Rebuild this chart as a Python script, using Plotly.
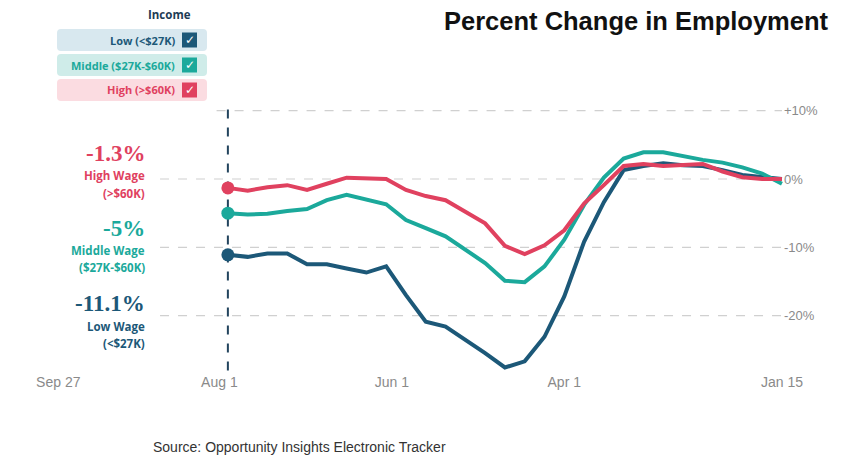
import datetime as dt
import plotly.graph_objects as go

# ---------------- data ----------------
start = dt.date(2020, 1, 15)
dates = [start + dt.timedelta(days=7 * k) for k in range(29)]

high_wage = [0.0, 0.0, 0.25, 1.1, 2.2, 2.0, 1.9, 2.2, 1.9, -0.9, -3.6, -7.5, -9.7, -11.0, -9.8,
             -6.5, -4.8, -3.1, -2.5, -1.6, 0.0, 0.1, 0.2, -0.7, -1.6, -0.9, -1.2, -1.7, -1.3]
middle_wage = [-0.7, 0.8, 1.7, 2.4, 2.8, 3.4, 3.9, 3.9, 3.0, 0.2, -3.8, -8.9, -12.8, -15.1, -14.9,
               -12.3, -10.4, -8.4, -7.2, -6.0, -3.7, -3.0, -2.3, -3.1, -4.4, -4.7, -5.1, -5.2, -5.0]
low_wage = [0.0, 0.25, 0.6, 1.3, 1.9, 2.0, 2.3, 1.9, 1.3, -3.4, -9.2, -17.2, -23.1, -26.7, -27.6,
            -25.5, -23.6, -21.6, -20.9, -17.0, -12.8, -13.7, -13.1, -12.5, -12.5, -10.9, -10.9, -11.4, -11.1]

series_names = ["Low (<$27K)", "Middle ($27K-$60K)", "High (>$60K)"]
series_values = [low_wage, middle_wage, high_wage]
series_labels = [("-11.1%", "Low Wage", "(<$27K)"),
                 ("-5%", "Middle Wage", "($27K-$60K)"),
                 ("-1.3%", "High Wage", "(>$60K)")]

x_tick_vals = ["2020-01-15", "2020-04-01", "2020-06-01", "2020-08-01", "2020-09-27"]
x_tick_text = ["Jan 15", "Apr 1", "Jun 1", "Aug 1", "Sep 27"]
y_tick_vals = [10, 0, -10, -20]
y_tick_text = ["+10%", "0%", "-10%", "-20%"]

title_text = "Percent Change in Employment"
legend_title = "Income"
source_text = "Source: Opportunity Insights Electronic Tracker"

# ---------------- style ----------------
colors = ["#1c5878", "#1ba99b", "#e0415f"]
legend_bg = ["#d8e8ef", "#cfece9", "#fbdce1"]

OFF = 8  # page body margin
W, H = 846 - 2 * OFF, 466 - 2 * OFF
ML, MT = 22, 87
MR = W - (783 - OFF)
MB = H - (372 - OFF)
PW, PH = W - ML - MR, H - MT - MB


def px(x):
    return (x - OFF - ML) / PW


def py(y):
    return (H - MB - (y - OFF)) / PH


fig = go.Figure()

for name, vals, col in zip(series_names, series_values, colors):
    fig.add_trace(go.Scatter(x=dates, y=vals, mode="lines", name=name,
                             line=dict(color=col, width=4), showlegend=False,
                             hoverinfo="skip"))
    fig.add_trace(go.Scatter(x=[dates[-1]], y=[vals[-1]], mode="markers",
                             marker=dict(color=col, size=13), showlegend=False,
                             hoverinfo="skip"))

shapes = []
# gridlines
grid_start = {10: "2020-08-02", 0: "2020-08-22", -10: "2020-08-22", -20: "2020-08-22"}
for v in y_tick_vals:
    shapes.append(dict(type="line", xref="x", yref="y", x0=grid_start[v], x1=str(dates[0]),
                       y0=v, y1=v, line=dict(color="#d0d0d0", width=1.2, dash="dash"),
                       layer="below"))
# vertical line at latest date
shapes.append(dict(type="line", xref="x", yref="paper", x0=str(dates[-1]), x1=str(dates[-1]),
                   y0=0.005, y1=py(109), line=dict(color="#23445e", width=2, dash="dash"),
                   layer="below"))


def rounded_rect(x0, y0, x1, y1, r):
    pts = [
        f"M {px(x0 + r)},{py(y0)}",
        f"L {px(x1 - r)},{py(y0)}",
        f"Q {px(x1)},{py(y0)} {px(x1)},{py(y0 + r)}",
        f"L {px(x1)},{py(y1 - r)}",
        f"Q {px(x1)},{py(y1)} {px(x1 - r)},{py(y1)}",
        f"L {px(x0 + r)},{py(y1)}",
        f"Q {px(x0)},{py(y1)} {px(x0)},{py(y1 - r)}",
        f"L {px(x0)},{py(y0 + r)}",
        f"Q {px(x0)},{py(y0)} {px(x0 + r)},{py(y0)}",
        "Z",
    ]
    return " ".join(pts)


annotations = []
box_tops = [29, 54, 79]
for i, (name, col, bg) in enumerate(zip(series_names, colors, legend_bg)):
    t = box_tops[i]
    shapes.append(dict(type="path", xref="paper", yref="paper",
                       path=rounded_rect(57, t, 207, t + 22, 4),
                       fillcolor=bg, line=dict(width=0)))
    shapes.append(dict(type="rect", xref="paper", yref="paper",
                       x0=px(182), x1=px(197), y0=py(t + 3.5), y1=py(t + 18.5),
                       fillcolor=col, line=dict(width=0)))
    annotations.append(dict(xref="paper", yref="paper", x=px(189.5), y=py(t + 11),
                            text="✓", showarrow=False, xanchor="center", yanchor="middle",
                            font=dict(family="DejaVu Sans", size=12, color="white")))
    annotations.append(dict(xref="paper", yref="paper", x=px(177), y=py(t + 11),
                            text=f"<b>{name}</b>", showarrow=False, xanchor="right",
                            yanchor="middle",
                            font=dict(family="Open Sans", size=11, color=col)))

annotations.append(dict(xref="paper", yref="paper", x=px(193), y=py(15),
                        text=f"<b>{legend_title}</b>", showarrow=False, xanchor="right",
                        yanchor="middle", font=dict(family="Open Sans", size=11.5, color="#1d3c55")))

# left-side value labels
label_y = [(303, 326, 343), (228, 250, 267), (153, 175, 193)]
for (big, l1, l2), col, (y0, y1, y2) in zip(series_labels, colors, label_y):
    annotations.append(dict(xref="paper", yref="paper", x=px(147), y=py(y0),
                            text=f"<b>{big}</b>", showarrow=False, xanchor="right",
                            yanchor="middle",
                            font=dict(family="Liberation Serif", size=23, color=col)))
    annotations.append(dict(xref="paper", yref="paper", x=px(147), y=py(y1),
                            text=f"<b>{l1}</b>", showarrow=False, xanchor="right",
                            yanchor="middle",
                            font=dict(family="Open Sans", size=11.5, color=col)))
    annotations.append(dict(xref="paper", yref="paper", x=px(147), y=py(y2),
                            text=f"<b>{l2}</b>", showarrow=False, xanchor="right",
                            yanchor="middle",
                            font=dict(family="Open Sans", size=11.5, color=col)))

# title and source
annotations.append(dict(xref="paper", yref="paper", x=px(831), y=py(21),
                        text=f"<b>{title_text}</b>", showarrow=False, xanchor="right",
                        yanchor="middle",
                        font=dict(family="Liberation Sans", size=25.5, color="#111111")))
annotations.append(dict(xref="paper", yref="paper", x=px(448), y=py(447),
                        text=source_text, showarrow=False, xanchor="right",
                        yanchor="middle",
                        font=dict(family="Liberation Sans", size=14, color="#333333")))

fig.update_layout(
    width=W, height=H,
    margin=dict(l=ML, r=MR, t=MT, b=MB),
    paper_bgcolor="white", plot_bgcolor="white",
    shapes=shapes, annotations=annotations,
    xaxis=dict(type="date", range=["2020-10-07", "2020-01-14 15:00"],
               tickvals=x_tick_vals, ticktext=x_tick_text, showgrid=False,
               zeroline=False, showline=False, ticks="",
               tickfont=dict(family="Liberation Sans", size=14, color="#8a8a8a")),
    yaxis=dict(range=[-28.26, 12.3], side="right", tickvals=y_tick_vals,
               ticktext=y_tick_text, showgrid=False, zeroline=False, showline=False,
               ticks="", tickfont=dict(family="Liberation Sans", size=13, color="#8a8a8a")),
)

fig.write_html("out.html")
